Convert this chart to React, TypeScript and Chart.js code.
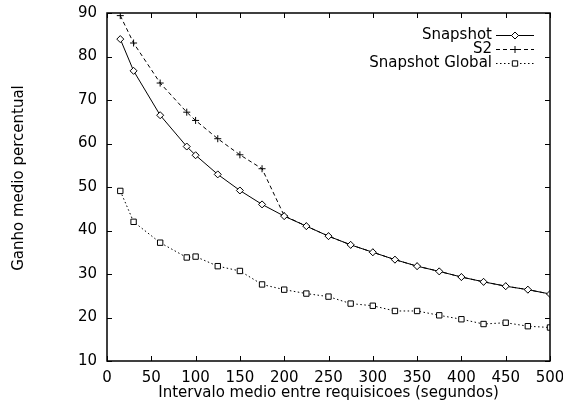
import React, { useEffect, useRef } from "react";
import { Chart, registerables } from "chart.js";

Chart.register(...registerables);

const intervals = [15, 30, 60, 90, 100, 125, 150, 175, 200, 225, 250, 275, 300, 325, 350, 375, 400, 425, 450, 475, 500];
const snapshot = [84.0, 76.7, 66.5, 59.3, 57.3, 52.9, 49.2, 46.0, 43.3, 41.0, 38.7, 36.7, 35.0, 33.3, 31.8, 30.6, 29.3, 28.2, 27.2, 26.4, 25.4];
const s2 = [89.4, 83.1, 73.9, 67.2, 65.3, 61.1, 57.4, 54.2, 43.4, 41.0, 38.7, 36.7, 35.0, 33.3, 31.8, 30.6, 29.3, 28.2, 27.2, 26.4, 25.4];
const snapshotGlobal = [49.1, 42.0, 37.2, 33.8, 34.0, 31.8, 30.7, 27.6, 26.4, 25.5, 24.8, 23.2, 22.7, 21.5, 21.5, 20.5, 19.6, 18.5, 18.8, 18.0, 17.7];
const seriesLabels = ["Snapshot", "S2", "Snapshot Global"];
const xTickValues = [0, 50, 100, 150, 200, 250, 300, 350, 400, 450, 500];
const yTickValues = [10, 20, 30, 40, 50, 60, 70, 80, 90];
const xTitle = "Intervalo medio entre requisicoes (segundos)";
const yTitle = "Ganho medio percentual";

const FONT = "DejaVu Sans";
const FONT_SIZE = 15;

const styles = [
  { dash: [] as number[], point: "rectRot", radius: 3.5 },
  { dash: [4, 3], point: "cross", radius: 3.5 },
  { dash: [1.5, 2.5], point: "rect", radius: 3.8 },
];

function drawMarker(ctx: CanvasRenderingContext2D, kind: string, x: number, y: number, r: number) {
  ctx.save();
  ctx.setLineDash([]);
  ctx.lineWidth = 1;
  ctx.strokeStyle = "#000";
  ctx.fillStyle = "#fff";
  ctx.beginPath();
  if (kind === "rectRot") {
    ctx.moveTo(x - r, y);
    ctx.lineTo(x, y - r);
    ctx.lineTo(x + r, y);
    ctx.lineTo(x, y + r);
    ctx.closePath();
    ctx.fill();
    ctx.stroke();
  } else if (kind === "cross") {
    ctx.moveTo(x - r, y);
    ctx.lineTo(x + r, y);
    ctx.moveTo(x, y - r);
    ctx.lineTo(x, y + r);
    ctx.stroke();
  } else {
    const h = r * Math.SQRT1_2;
    ctx.rect(x - h, y - h, 2 * h, 2 * h);
    ctx.fill();
    ctx.stroke();
  }
  ctx.restore();
}

const framePlugin = {
  id: "gnuplotFrame",
  afterDraw(chart: any) {
    const ctx: CanvasRenderingContext2D = chart.ctx;
    const { left, right, top, bottom } = chart.chartArea;
    const xs = chart.scales.x;
    const ys = chart.scales.y;
    const tl = 5;
    ctx.save();
    ctx.strokeStyle = "#000";
    ctx.lineWidth = 1.5;
    ctx.setLineDash([]);
    ctx.strokeRect(left, top, right - left, bottom - top);
    ctx.lineWidth = 1;
    ctx.beginPath();
    xTickValues.forEach((v) => {
      const px = Math.round(xs.getPixelForValue(v)) + 0.5;
      ctx.moveTo(px, bottom);
      ctx.lineTo(px, bottom - tl);
      ctx.moveTo(px, top);
      ctx.lineTo(px, top + tl);
    });
    yTickValues.forEach((v) => {
      const py = Math.round(ys.getPixelForValue(v)) + 0.5;
      ctx.moveTo(left, py);
      ctx.lineTo(left + tl, py);
      ctx.moveTo(right, py);
      ctx.lineTo(right - tl, py);
    });
    ctx.stroke();

    ctx.font = `${FONT_SIZE}px "${FONT}"`;
    ctx.fillStyle = "#000";

    // y axis title
    ctx.save();
    ctx.translate(19, 178);
    ctx.rotate(-Math.PI / 2);
    ctx.textAlign = "center";
    ctx.textBaseline = "middle";
    ctx.fillText(yTitle, 0, 0);
    ctx.restore();

    // legend
    ctx.textAlign = "right";
    ctx.textBaseline = "middle";
    const textX = 492;
    const lineX0 = 496;
    const lineX1 = 534;
    const rowY = [35, 49, 63];
    chart.data.datasets.forEach((ds: any, i: number) => {
      const y = rowY[i];
      ctx.fillText(ds.label, textX, y);
      ctx.save();
      ctx.lineWidth = 1;
      ctx.setLineDash(styles[i].dash);
      ctx.beginPath();
      ctx.moveTo(lineX0, y + 0.5);
      ctx.lineTo(lineX1, y + 0.5);
      ctx.stroke();
      ctx.restore();
      drawMarker(ctx, styles[i].point, (lineX0 + lineX1) / 2, y + 0.5, styles[i].radius);
    });
    ctx.restore();
  },
};

export default function App() {
  const ref = useRef<HTMLCanvasElement>(null);
  useEffect(() => {
    if (!ref.current) return;
    const seriesValues = [snapshot, s2, snapshotGlobal];
    const chart = new Chart(ref.current, {
      type: "scatter",
      data: {
        datasets: seriesValues.map((vals, i) => ({
          label: seriesLabels[i],
          data: intervals.map((x, j) => ({ x, y: vals[j] })),
          showLine: true,
          borderColor: "#000",
          backgroundColor: "#fff",
          borderWidth: 1,
          borderDash: styles[i].dash,
          pointStyle: styles[i].point as any,
          pointRadius: styles[i].radius,
          pointBorderWidth: 1,
          pointBorderColor: "#000",
          pointBackgroundColor: "#fff",
        })),
      },
      options: {
        animation: false,
        responsive: false,
        devicePixelRatio: 1,
        layout: { padding: { top: 13, right: 13, left: 0, bottom: 0 } },
        plugins: { legend: { display: false }, tooltip: { enabled: false } },
        scales: {
          x: {
            type: "linear",
            min: 0,
            max: 500,
            grid: { display: false, drawTicks: false },
            border: { display: false },
            afterBuildTicks: (s: any) => {
              s.ticks = xTickValues.map((v) => ({ value: v }));
            },
            afterFit: (s: any) => {
              s.height = 48;
              s.paddingRight = 0;
              s.paddingLeft = 0;
            },
            ticks: {
              padding: 8,
              color: "#000",
              font: { family: FONT, size: FONT_SIZE },
              maxRotation: 0,
              autoSkip: false,
            },
            title: {
              display: true,
              text: xTitle,
              color: "#000",
              font: { family: FONT, size: FONT_SIZE },
              padding: { top: 0, bottom: 7 },
            },
          },
          y: {
            type: "linear",
            min: 10,
            max: 90,
            grid: { display: false, drawTicks: false },
            border: { display: false },
            afterBuildTicks: (s: any) => {
              s.ticks = yTickValues.map((v) => ({ value: v }));
            },
            afterFit: (s: any) => {
              s.width = 107;
              s.paddingTop = 0;
              s.paddingBottom = 0;
            },
            ticks: {
              padding: 10,
              color: "#000",
              font: { family: FONT, size: FONT_SIZE },
              autoSkip: false,
            },
            title: { display: false },
          },
        },
      },
      plugins: [framePlugin],
    });
    return () => chart.destroy();
  }, []);
  return (
    <div style={{ position: "absolute", left: 0, top: 0, width: 563, height: 409, background: "#fff" }}>
      <canvas ref={ref} width={563} height={409} style={{ display: "block" }} />
    </div>
  );
}
